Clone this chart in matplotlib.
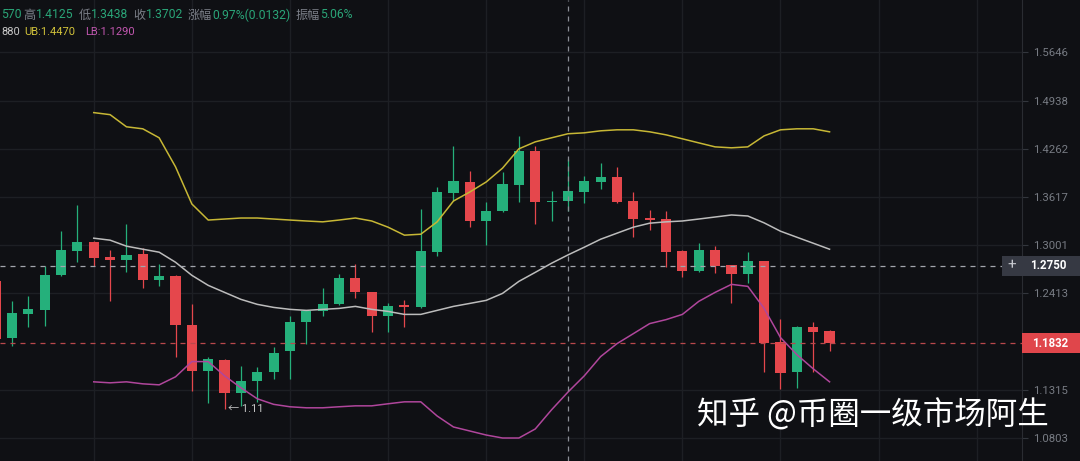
import numpy as np
import matplotlib
matplotlib.use('Agg')
import matplotlib.pyplot as plt
from matplotlib.patches import Rectangle

# daily candles (first one is cut by the left edge)
open_ = [1.2557, 1.1897, 1.2165, 1.2212, 1.2630, 1.2926, 1.3039, 1.2852, 1.2815, 1.2889,
         1.2569, 1.2617, 1.2046, 1.1523, 1.1648, 1.1282, 1.1413, 1.1512, 1.1749, 1.2081,
         1.2200, 1.2283, 1.2593, 1.2425, 1.2151, 1.2270, 1.2247, 1.2914, 1.3669, 1.3815,
         1.3307, 1.3435, 1.3775, 1.4235, 1.3552, 1.3570, 1.3683, 1.3815, 1.3881, 1.3565,
         1.3345, 1.3332, 1.2926, 1.2678, 1.2939, 1.2751, 1.2642, 1.2803, 1.1851, 1.1512,
         1.2023, 1.1976]
high = [1.2593, 1.2318, 1.2377, 1.2739, 1.3177, 1.3510, 1.3050, 1.2939, 1.3266, 1.2964,
        1.2764, 1.2630, 1.2283, 1.1681, 1.1659, 1.1579, 1.1568, 1.1794, 1.2151, 1.2210,
        1.2473, 1.2642, 1.2764, 1.2435, 1.2294, 1.2330, 1.3458, 1.3748, 1.4303, 1.3962,
        1.3552, 1.3948, 1.4441, 1.4303, 1.3696, 1.4125, 1.3895, 1.4071, 1.4018, 1.3683,
        1.3448, 1.3435, 1.2939, 1.3026, 1.2989, 1.2760, 1.2914, 1.2810, 1.2116, 1.2030,
        1.2081, 1.1980]
low = [1.1828, 1.1806, 1.2023, 1.2035, 1.2620, 1.2790, 1.2739, 1.2318, 1.2666, 1.2473,
       1.2497, 1.1681, 1.1304, 1.1175, 1.1110, 1.1143, 1.1185, 1.1435, 1.1435, 1.1828,
       1.2151, 1.2275, 1.2354, 1.1965, 1.1965, 1.2023, 1.2240, 1.2864, 1.3565, 1.3230,
       1.3001, 1.3425, 1.3552, 1.3268, 1.3307, 1.3438, 1.3538, 1.3722, 1.3545, 1.3101,
       1.3190, 1.2727, 1.2605, 1.2670, 1.2654, 1.2294, 1.2533, 1.1512, 1.1326, 1.1337,
       1.1512, 1.1749]
close = [1.1885, 1.2177, 1.2224, 1.2630, 1.2939, 1.3039, 1.2840, 1.2815, 1.2877, 1.2569,
         1.2617, 1.2046, 1.1523, 1.1659, 1.1282, 1.1413, 1.1512, 1.1726, 1.2081, 1.2200,
         1.2283, 1.2593, 1.2425, 1.2151, 1.2259, 1.2247, 1.2926, 1.3683, 1.3828, 1.3307,
         1.3435, 1.3788, 1.4235, 1.3552, 1.3570, 1.3702, 1.3828, 1.3881, 1.3552, 1.3332,
         1.3319, 1.2914, 1.2678, 1.2939, 1.2739, 1.2642, 1.2803, 1.1840, 1.1501, 1.2023,
         1.1965, 1.1832]

# bollinger bands, drawn from candle 6 onwards
band_start = 6
upper = [1.4767, 1.4738, 1.4567, 1.4539, 1.4414, 1.4018, 1.3526, 1.3319, 1.3332, 1.3345,
         1.3345, 1.3332, 1.3319, 1.3307, 1.3296, 1.3319, 1.3345, 1.3307, 1.3228, 1.3127,
         1.3139, 1.3296, 1.3565, 1.3683, 1.3815, 1.4000, 1.4262, 1.4358, 1.4414, 1.4470,
         1.4483, 1.4511, 1.4525, 1.4525, 1.4497, 1.4455, 1.4400, 1.4344, 1.4289, 1.4276,
         1.4289, 1.4441, 1.4525, 1.4539, 1.4539, 1.4497]
middle = [1.3089, 1.3064, 1.2989, 1.2951, 1.2914, 1.2790, 1.2630, 1.2509, 1.2425, 1.2342,
          1.2283, 1.2247, 1.2224, 1.2212, 1.2224, 1.2235, 1.2259, 1.2224, 1.2200, 1.2165,
          1.2165, 1.2212, 1.2259, 1.2294, 1.2330, 1.2413, 1.2557, 1.2666, 1.2778, 1.2880,
          1.2976, 1.3076, 1.3152, 1.3228, 1.3279, 1.3296, 1.3307, 1.3332, 1.3358, 1.3384,
          1.3371, 1.3283, 1.3177, 1.3101, 1.3026, 1.2951]
lower = [1.1402, 1.1391, 1.1402, 1.1380, 1.1369, 1.1457, 1.1626, 1.1626, 1.1468, 1.1337,
         1.1218, 1.1158, 1.1132, 1.1121, 1.1121, 1.1132, 1.1142, 1.1142, 1.1164, 1.1185,
         1.1185, 1.1034, 1.0918, 1.0876, 1.0834, 1.0803, 1.0803, 1.0897, 1.1100, 1.1290,
         1.1468, 1.1682, 1.1828, 1.1942, 1.2058, 1.2104, 1.2165, 1.2318, 1.2425, 1.2521,
         1.2497, 1.2235, 1.1897, 1.1704, 1.1546, 1.1402]

price_ticks = [1.0803, 1.1315, 1.2413, 1.3001, 1.3617, 1.4262, 1.4938, 1.5646]
cross_idx = 35
cross_price = 1.2750
last_price = 1.1832
low_mark_idx = 14
low_mark_text = '← 1.11'
watermark = '知乎 @币圈一级市场阿生'

BG = '#0f1014'
GRID = '#1d1f24'
UP = '#25b07b'
DOWN = '#e5474c'

plt.rcParams['font.family'] = ['Roboto', 'Noto Sans CJK SC', 'DejaVu Sans']

fig = plt.figure(figsize=(10.8, 4.61), dpi=100, facecolor=BG)
ax = fig.add_axes([0, 0, 1022 / 1080, 1])
ax.set_facecolor(BG)
ax.set_yscale('log')
ax.set_xlim(0.266, 62.77)
ax.set_ylim(1.0567, 1.6454)

# grid
for gx in range(0, 64, 6):
    ax.axvline(gx, color=GRID, lw=1.0, zorder=0)
for gy in price_ticks:
    ax.axhline(gy, color=GRID, lw=1.0, zorder=0)

# candles
x = np.arange(len(close))
o = np.array(open_)
c = np.array(close)
cols = [UP if cc >= oo else DOWN for oo, cc in zip(o, c)]
ax.vlines(x, low, high, colors=cols, lw=0.9, zorder=3)
ax.bar(x, np.maximum(np.abs(c - o), 0.0012), bottom=np.minimum(o, c), width=0.62,
       color=cols, linewidth=0, zorder=4)

# bands
xb = np.arange(band_start, band_start + len(middle))
ax.plot(xb, upper, color='#c7b735', lw=1.1, zorder=5)
ax.plot(xb, middle, color='#bcbcbc', lw=1.1, zorder=5)
ax.plot(xb, lower, color='#b0469c', lw=1.1, zorder=5)

# crosshair and last price lines
ax.axvline(cross_idx, color='#8a8d95', lw=0.9, ls=(0, (4, 4)), zorder=6)
ax.axhline(cross_price, color='#a3a6ad', lw=0.9, ls=(0, (4, 4)), zorder=6)
ax.axhline(last_price, color='#b9484c', lw=0.9, ls=(0, (4, 4)), zorder=6)

ax.annotate(low_mark_text, xy=(low_mark_idx, low[low_mark_idx]), xytext=(2.5, 0),
            textcoords='offset points', va='center', ha='left', color='#c4c4c4', fontsize=8)

# right price axis
for s in ['top', 'left', 'bottom']:
    ax.spines[s].set_visible(False)
ax.spines['right'].set_color('#2a2c32')
ax.xaxis.set_visible(False)
ax.yaxis.tick_right()
ax.set_yticks(price_ticks, labels=['%.4f' % t for t in price_ticks])
ax.yaxis.set_minor_locator(matplotlib.ticker.NullLocator())
ax.tick_params(axis='y', colors='#33363d', labelcolor='#777b83', labelsize=8.2, length=4, width=0.8, pad=4)


def fig_y(price):
    disp = ax.transData.transform((0, price))
    return fig.transFigure.inverted().transform(disp)[1]


bh = 20 / 461
yc = fig_y(cross_price)
fig.add_artist(Rectangle((1002 / 1080, yc - bh / 2), 78 / 1080, bh, transform=fig.transFigure,
                         facecolor='#363943', edgecolor='none', zorder=10))
fig.text(1012 / 1080, yc, '+', color='#c8cad0', fontsize=11, ha='center', va='center', zorder=11)
fig.text(1030 / 1080, yc, '%.4f' % cross_price, color='#ffffff', fontsize=8.3, fontweight='bold',
         ha='left', va='center', zorder=11)

yl = fig_y(last_price)
fig.add_artist(Rectangle((1022 / 1080, yl - bh / 2), 58 / 1080, bh, transform=fig.transFigure,
                         facecolor='#e0464b', edgecolor='none', zorder=10))
fig.text(1032 / 1080, yl, '%.4f' % last_price, color='#ffffff', fontsize=8.3, fontweight='bold',
         ha='left', va='center', zorder=11)

# header texts
GREEN_T = '#2aa578'
GRAY_T = '#7b7f88'
line1 = [('570', GREEN_T), ('高', GRAY_T), ('1.4125', GREEN_T), ('低', GRAY_T), ('1.3438', GREEN_T),
         ('收', GRAY_T), ('1.3702', GREEN_T), ('涨幅', GRAY_T), ('0.97%(0.0132)', GREEN_T),
         ('振幅', GRAY_T), ('5.06%', GREEN_T)]
line2 = [('880', '#c8c8c8'), ('UB:1.4470', '#d3c43a'), ('LB:1.1290', '#c257b0')]

for pieces, ypx, size, first_gap, gaps in [(line1, 15, 8.7, 1.5, (3.2, 0.5)),
                                            (line2, 32, 8.0, 3.5, (7.0, 7.0))]:
    prev = ax.annotate(pieces[0][0], xy=(1 / 1080, 1 - ypx / 461), xycoords='figure fraction',
                       color=pieces[0][1], fontsize=size, va='center', ha='left', zorder=12,
                       annotation_clip=False)
    for k, (s, col) in enumerate(pieces[1:]):
        if k == 0:
            gap = first_gap
        else:
            gap = gaps[0] if k % 2 == 0 else gaps[1]
        prev = ax.annotate(s, xy=(1, 0.5), xycoords=prev, xytext=(gap, 0), textcoords='offset points',
                           color=col, fontsize=size, va='center', ha='left', zorder=12)

fig.text(697 / 1080, 1 - 415 / 461, watermark, color='#ffffff', fontsize=22.7,
         family=['Noto Sans CJK SC', 'DejaVu Sans'], ha='left', va='center', zorder=12)

fig.savefig('out.png', dpi=100, facecolor=BG)
